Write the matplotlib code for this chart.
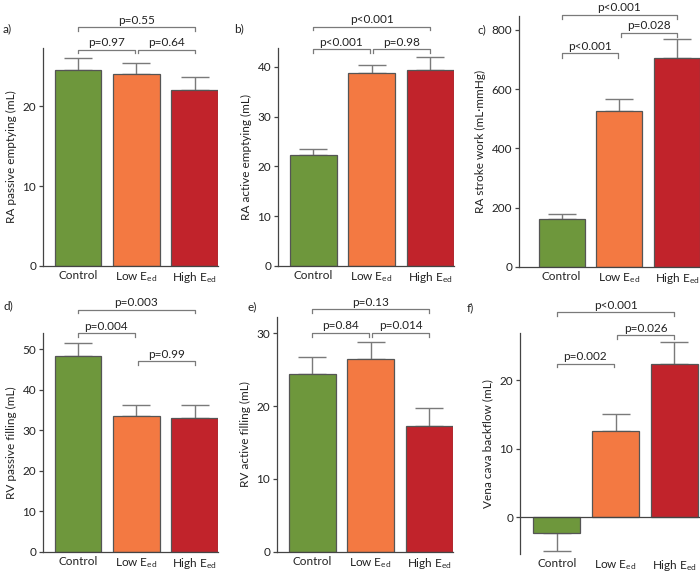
import numpy as np
import matplotlib
matplotlib.use('Agg')
import matplotlib.pyplot as plt

plt.rcParams['font.family'] = ['Lato', 'DejaVu Sans']
plt.rcParams['mathtext.fontset'] = 'custom'
plt.rcParams['mathtext.rm'] = 'Lato'
plt.rcParams['mathtext.it'] = 'Lato:italic'

# groups
groups = ['Control', 'Low E$_\\mathrm{ed}$', 'High E$_\\mathrm{ed}$']
colors = ['#6e973c', '#f37942', '#c1232b']

# means and SEM
ra_passive = [24.6, 24.0, 22.1]
ra_passive_err = [1.4, 1.4, 1.6]
ra_active = [22.25, 38.7, 39.3]
ra_active_err = [1.35, 1.6, 2.6]
ra_work = [160, 527, 705]
ra_work_err = [19, 40, 64]
rv_passive = [48.3, 33.6, 33.1]
rv_passive_err = [3.3, 2.5, 3.0]
rv_active = [24.4, 26.5, 17.3]
rv_active_err = [2.4, 2.3, 2.5]
backflow = [-2.35, 12.57, 22.3]
backflow_err = [2.5, 2.45, 3.2]

# p-value brackets: (i, j, height, text)
p_a = [(0, 1, 27.1, 'p=0.97'), (1, 2, 27.1, 'p=0.64'), (0, 2, 29.9, 'p=0.55')]
p_b = [(0, 1, 43.6, 'p<0.001'), (1, 2, 43.6, 'p=0.98'), (0, 2, 48.1, 'p<0.001')]
p_c = [(0, 1, 721, 'p<0.001'), (1, 2, 791, 'p=0.028'), (0, 2, 851, 'p<0.001')]
p_d = [(0, 1, 54.0, 'p=0.004'), (1, 2, 47.1, 'p=0.99'), (0, 2, 59.8, 'p=0.003')]
p_e = [(0, 1, 30.1, 'p=0.84'), (1, 2, 30.1, 'p=0.014'), (0, 2, 33.3, 'p=0.13')]
p_f = [(0, 1, 22.4, 'p=0.002'), (1, 2, 26.5, 'p=0.026'), (0, 2, 29.9, 'p<0.001')]

W, H = 700, 572
fig = plt.figure(figsize=(7, 5.72), dpi=100)

spine_col = '#444444'
grey = '#7a7a7a'
fs = 8.5


def make_ax(x0, x1, ytop, ybot):
    return fig.add_axes([x0 / W, 1 - ybot / H, (x1 - x0) / W, (ybot - ytop) / H])


def panel(ax, vals, errs, ylabel, ylim, xlim, yticks, brackets, letter, lpos):
    x = np.arange(3)
    ax.bar(x, vals, width=0.8, color=colors, edgecolor='#555555', linewidth=0.9, zorder=2)
    lo = [e if v < 0 else 0 for v, e in zip(vals, errs)]
    hi = [0 if v < 0 else e for v, e in zip(vals, errs)]
    ax.errorbar(x, vals, yerr=[lo, hi], fmt='none', ecolor=grey, elinewidth=1,
                capsize=10, capthick=1, zorder=1)
    ax.set_xlim(*xlim)
    ax.set_ylim(*ylim)
    ax.set_yticks(yticks)
    ax.set_xticks(x)
    ax.set_xticklabels(groups, fontsize=fs, color='#222222')
    ax.tick_params(axis='x', length=0, pad=3)
    ax.tick_params(axis='y', length=3, width=0.9, color=spine_col, labelsize=fs,
                   labelcolor='#222222', pad=2)
    ax.set_ylabel(ylabel, fontsize=fs, color='#222222', labelpad=4)
    for s in ['top', 'right']:
        ax.spines[s].set_visible(False)
    for s in ['left', 'bottom']:
        ax.spines[s].set_color(spine_col)
        ax.spines[s].set_linewidth(0.9)
    ax.patch.set_visible(False)

    drop = 0.017 * (ylim[1] - ylim[0])
    for i, j, h, txt in brackets:
        xi, xj = i, j
        if j - i == 1:
            if i == 1:
                xi += 0.03
            else:
                xj -= 0.03
        ax.plot([xi, xi, xj, xj], [h - drop, h, h, h - drop], color=grey, lw=0.9,
                clip_on=False)
        ax.annotate(txt, ((xi + xj) / 2, h), xytext=(0, 1), textcoords='offset points',
                    ha='center', va='bottom', fontsize=fs, color='#222222',
                    annotation_clip=False)
    fig.text(lpos[0] / W, 1 - lpos[1] / H, letter, fontsize=fs, color='#222222',
             ha='left', va='center')


ax = make_ax(43, 218, 48, 266)
panel(ax, ra_passive, ra_passive_err, 'RA passive emptying (mL)', (0, 27.3), (-0.6, 2.4),
      [0, 10, 20], p_a, 'a)', (3, 29))

ax = make_ax(278, 453.5, 48, 266)
panel(ax, ra_active, ra_active_err, 'RA active emptying (mL)', (0, 43.8), (-0.6, 2.4),
      [0, 10, 20, 30, 40], p_b, 'b)', (234, 29))

ax = make_ax(519, 700, 16, 266.7)
panel(ax, ra_work, ra_work_err, 'RA stroke work (mL\u00b7mmHg)', (0, 847), (-0.74, 2.4),
      [0, 200, 400, 600, 800], p_c, 'c)', (478, 30))

ax = make_ax(43, 218, 333, 551.7)
panel(ax, rv_passive, rv_passive_err, 'RV passive filling (mL)', (0, 54), (-0.6, 2.4),
      [0, 10, 20, 30, 40, 50], p_d, 'd)', (3, 306))

ax = make_ax(277, 452.5, 317.3, 551.7)
panel(ax, rv_active, rv_active_err, 'RV active filling (mL)', (0, 32.2), (-0.6, 2.4),
      [0, 10, 20, 30], p_e, 'e)', (248, 307))

ax = make_ax(520, 700, 332.7, 554.3)
panel(ax, backflow, backflow_err, 'Vena cava backflow (mL)', (-5.4, 26.9), (-0.63, 2.44),
      [0, 10, 20], p_f, 'f)', (467, 308))
ax.spines['bottom'].set_visible(False)
ax.axhline(0, color=spine_col, lw=0.9, zorder=3)

fig.savefig('out.png', dpi=100)
